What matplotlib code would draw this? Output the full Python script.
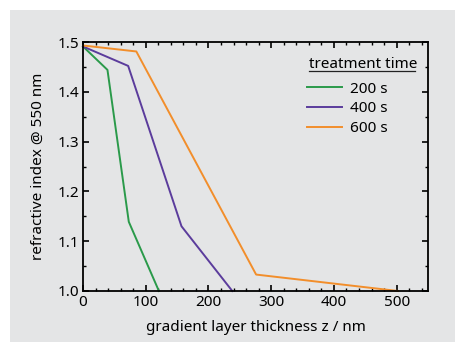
import matplotlib.pyplot as plt
from matplotlib.patches import Rectangle
from matplotlib.ticker import MultipleLocator

plt.rcParams['font.family'] = ['Noto Sans', 'DejaVu Sans']

# refractive index profiles
z_200 = [0, 39, 73, 121]
n_200 = [1.491, 1.444, 1.139, 1.0]
z_400 = [0, 72, 157, 238]
n_400 = [1.491, 1.452, 1.130, 1.0]
z_600 = [0, 85, 276, 502]
n_600 = [1.493, 1.481, 1.033, 1.0]

labels = ['200 s', '400 s', '600 s']
colors = ['#2a9a4a', '#5b3c9c', '#f28e2b']
bg = '#e4e5e6'

fig = plt.figure(figsize=(4.56, 3.42), dpi=100)
fig.patches.append(Rectangle((10 / 456, 0), 1, 1 - 10 / 342, transform=fig.transFigure,
                             facecolor=bg, edgecolor='none', zorder=-10))
ax = fig.add_axes([83 / 456, 1 - 291 / 342, 345 / 456, 249 / 342])
ax.set_facecolor(bg)

for z, n, lab, c in zip([z_200, z_400, z_600], [n_200, n_400, n_600], labels, colors):
    ax.plot(z, n, color=c, lw=1.4, label=lab, clip_on=False)

ax.set_xlim(0, 550)
ax.set_ylim(1.0, 1.5)
ax.xaxis.set_major_locator(MultipleLocator(100))
ax.xaxis.set_minor_locator(MultipleLocator(20))
ax.yaxis.set_major_locator(MultipleLocator(0.1))
ax.yaxis.set_minor_locator(MultipleLocator(0.05))
ax.yaxis.set_major_formatter(plt.FormatStrFormatter('%.1f'))
ax.tick_params(which='both', direction='in', top=True, right=True, labelsize=11, pad=3)
ax.tick_params(which='major', length=4.5, width=1.2)
ax.tick_params(which='minor', length=2.5, width=1.0)
for s in ax.spines.values():
    s.set_linewidth(1.3)

ax.set_xlabel('gradient layer thickness z / nm', fontsize=11, labelpad=7)
ax.set_ylabel('refractive index @ 550 nm', fontsize=11, labelpad=8)

# legend title with underline
ax.text(0.655, 0.896, 'treatment time', transform=ax.transAxes, fontsize=11,
        ha='left', va='baseline')
ax.plot([0.655, 0.962], [0.884, 0.884], transform=ax.transAxes, color='#222222', lw=0.9)

ax.legend(loc='upper left', bbox_to_anchor=(0.65, 0.84), frameon=False, fontsize=11,
          handlelength=2.3, handletextpad=0.5, labelspacing=0.3,
          borderaxespad=0, borderpad=0)

fig.savefig('out.png', dpi=100)
